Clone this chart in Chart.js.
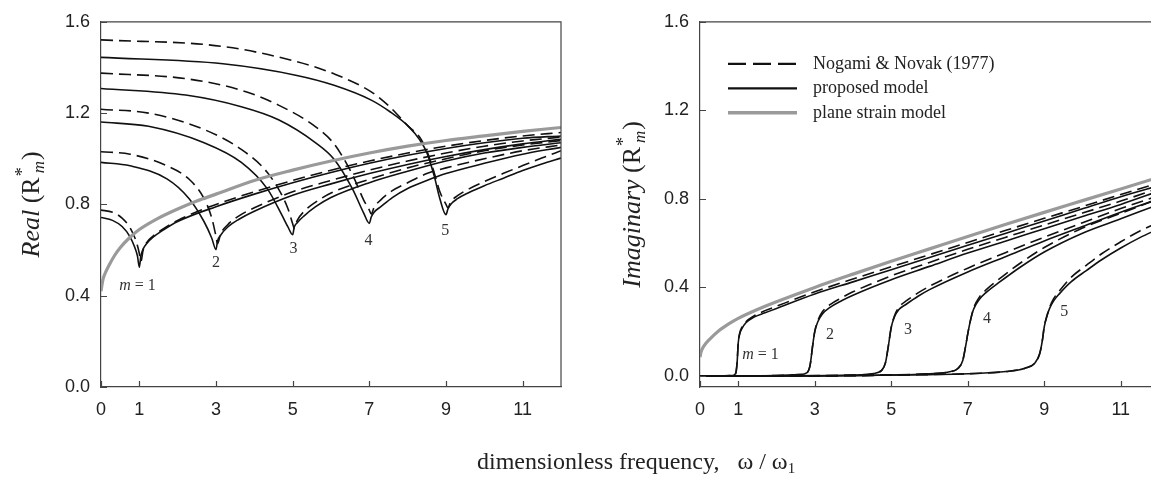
<!DOCTYPE html>
<html>
<head>
<meta charset="utf-8">
<title>Soil reaction vs frequency</title>
<script src="https://cdn.jsdelivr.net/npm/chart.js@4.4.1/dist/chart.umd.min.js"></script>
<style>
  html, body { margin: 0; padding: 0; background: #fff; overflow: hidden; }
  #wrap { position: relative; width: 1151px; height: 485px; overflow: hidden; }
  #realChart { position: absolute; left: 0; top: 0; }
  #imagChart { position: absolute; left: 575px; top: 0; }
  #xTitle {
    position: absolute; left: 477px; top: 448px; white-space: nowrap;
    font: 24px "Liberation Serif", "Times New Roman", serif; color: #222;
  }
  #xTitle sub { font-size: 15px; vertical-align: -4px; }
</style>
</head>
<body>
<div id="wrap">
  <canvas id="realChart" width="580" height="485"></canvas>
  <canvas id="imagChart" width="600" height="485"></canvas>
  <div id="xTitle">dimensionless frequency,&nbsp;&nbsp; ω / ω<sub>1</sub></div>
</div>
<script>
// axis ticks
var xTickVals = [0, 1, 3, 5, 7, 9, 11];
var yTickVals = [0, 0.4, 0.8, 1.2, 1.6];

// ---- real part ----
// plane strain model
var psReX = [0, 0.05, 0.1, 0.2, 0.35, 0.5, 0.75, 1, 1.5, 2, 2.5, 3, 4, 5, 6, 7, 8, 9, 10, 11, 12];
var psRe  = [0.42, 0.47, 0.495, 0.53, 0.575, 0.61, 0.655, 0.69, 0.74, 0.78, 0.815, 0.845, 0.905, 0.95, 0.99, 1.025, 1.055, 1.08, 1.10, 1.12, 1.137];

// m = 1
var re1X    = [0, 0.3, 0.55, 0.75, 0.88, 0.95, 1.0, 1.04, 1.1, 1.2, 1.35, 1.6, 2, 3, 4, 5, 6, 7, 8, 9, 10, 11, 12];
var re1Prop = [0.743, 0.73, 0.703, 0.66, 0.612, 0.575, 0.525, 0.575, 0.605, 0.63, 0.655, 0.685, 0.725, 0.79, 0.845, 0.895, 0.94, 0.98, 1.015, 1.045, 1.07, 1.09, 1.10];
var re1NN   = [0.775, 0.766, 0.74, 0.70, 0.655, 0.62, 0.585, 0.55, 0.60, 0.635, 0.66, 0.69, 0.73, 0.80, 0.855, 0.905, 0.95, 0.99, 1.025, 1.055, 1.08, 1.10, 1.115];
// m = 2
var re2X    = [0, 0.76, 1.72, 2.3, 2.69, 2.89, 3.0, 3.04, 3.12, 3.3, 3.6, 4, 5, 6, 7, 8, 9, 10, 11, 12];
var re2Prop = [0.984, 0.969, 0.912, 0.825, 0.724, 0.652, 0.602, 0.64, 0.665, 0.70, 0.735, 0.77, 0.84, 0.89, 0.935, 0.975, 1.01, 1.04, 1.065, 1.085];
var re2NN   = [1.031, 1.02, 0.969, 0.91, 0.825, 0.74, 0.66, 0.628, 0.67, 0.71, 0.75, 0.785, 0.855, 0.905, 0.95, 0.99, 1.025, 1.055, 1.078, 1.095];
// m = 3
var re3X    = [0, 1.24, 2.69, 3.66, 4.34, 4.72, 4.88, 5.0, 5.04, 5.12, 5.3, 5.6, 6, 7, 8, 9, 10, 11, 12];
var re3Prop = [1.161, 1.142, 1.07, 0.984, 0.868, 0.753, 0.70, 0.667, 0.70, 0.72, 0.75, 0.79, 0.83, 0.895, 0.945, 0.99, 1.025, 1.05, 1.07];
var re3NN   = [1.217, 1.20, 1.128, 1.041, 0.94, 0.84, 0.78, 0.715, 0.695, 0.73, 0.77, 0.81, 0.85, 0.91, 0.96, 1.0, 1.035, 1.06, 1.08];
// m = 4
var re4X    = [0, 2.21, 3.66, 4.63, 5.6, 6.08, 6.56, 6.85, 7.0, 7.05, 7.12, 7.3, 7.6, 8, 8.5, 9, 10, 11, 12];
var re4Prop = [1.308, 1.279, 1.228, 1.171, 1.07, 0.998, 0.868, 0.763, 0.717, 0.745, 0.765, 0.79, 0.83, 0.87, 0.905, 0.935, 0.98, 1.02, 1.05];
var re4NN   = [1.375, 1.351, 1.30, 1.235, 1.14, 1.065, 0.93, 0.82, 0.775, 0.758, 0.785, 0.82, 0.86, 0.895, 0.935, 0.96, 1.0, 1.035, 1.06];
// m = 5
var re5X    = [0, 3.18, 5.11, 6.08, 7.05, 7.53, 8.02, 8.31, 8.5, 8.69, 8.84, 9.0, 9.05, 9.12, 9.3, 9.6, 10, 10.5, 11, 11.5, 12];
var re5Prop = [1.444, 1.416, 1.365, 1.322, 1.257, 1.207, 1.142, 1.084, 1.027, 0.926, 0.825, 0.755, 0.78, 0.80, 0.825, 0.852, 0.882, 0.915, 0.948, 0.977, 1.003];
var re5NN   = [1.521, 1.492, 1.425, 1.372, 1.293, 1.228, 1.142, 1.095, 1.035, 0.94, 0.855, 0.80, 0.785, 0.81, 0.838, 0.868, 0.90, 0.936, 0.97, 1.003, 1.035];

// ---- imaginary part ----
var psImX = [0, 0.03, 0.1, 0.25, 0.5, 0.75, 1, 1.5, 2, 3, 4, 5, 6, 7, 8, 9, 10, 11, 12];
var psIm  = [0.085, 0.11, 0.135, 0.165, 0.205, 0.235, 0.26, 0.30, 0.335, 0.40, 0.46, 0.518, 0.574, 0.63, 0.685, 0.739, 0.792, 0.845, 0.898];

var im1X    = [0, 0.5, 0.85, 0.93, 0.97, 1.0, 1.04, 1.1, 1.2, 1.4, 1.7, 2, 3, 4, 5, 6, 7, 8, 9, 10, 11, 12];
var im1Prop = [0, 0, 0.002, 0.01, 0.06, 0.15, 0.19, 0.215, 0.24, 0.265, 0.285, 0.305, 0.37, 0.425, 0.48, 0.535, 0.59, 0.645, 0.70, 0.755, 0.81, 0.86];
var im1NN   = [0, 0, 0.002, 0.01, 0.06, 0.15, 0.195, 0.222, 0.245, 0.27, 0.295, 0.315, 0.38, 0.438, 0.493, 0.548, 0.603, 0.658, 0.712, 0.765, 0.82, 0.872];

var im2X    = [0, 1, 2, 2.6, 2.8, 2.88, 2.94, 3.0, 3.08, 3.2, 3.4, 3.7, 4, 5, 6, 7, 8, 9, 10, 11, 12];
var im2Prop = [0, 0, 0.002, 0.006, 0.015, 0.05, 0.13, 0.20, 0.245, 0.28, 0.31, 0.34, 0.365, 0.435, 0.495, 0.555, 0.61, 0.665, 0.72, 0.775, 0.835];
var im2NN   = [0, 0, 0.002, 0.006, 0.015, 0.05, 0.13, 0.20, 0.25, 0.29, 0.322, 0.353, 0.38, 0.452, 0.513, 0.572, 0.627, 0.682, 0.736, 0.79, 0.848];

var im3X    = [0, 2, 4, 4.5, 4.75, 4.85, 4.92, 5.0, 5.08, 5.2, 5.4, 5.7, 6, 7, 8, 9, 10, 11, 12];
var im3Prop = [0, 0, 0.004, 0.01, 0.025, 0.06, 0.13, 0.22, 0.265, 0.30, 0.325, 0.36, 0.39, 0.47, 0.54, 0.61, 0.675, 0.74, 0.80];
var im3NN   = [0, 0, 0.004, 0.01, 0.025, 0.06, 0.13, 0.22, 0.27, 0.31, 0.34, 0.375, 0.405, 0.487, 0.558, 0.627, 0.692, 0.756, 0.815];

var im4X    = [0, 3, 5, 6, 6.5, 6.75, 6.87, 6.94, 7.0, 7.07, 7.15, 7.3, 7.5, 7.8, 8.36, 9, 10, 11, 12];
var im4Prop = [0, 0, 0.004, 0.01, 0.018, 0.035, 0.07, 0.13, 0.19, 0.25, 0.30, 0.345, 0.38, 0.42, 0.49, 0.56, 0.645, 0.71, 0.775];
var im4NN   = [0, 0, 0.004, 0.01, 0.018, 0.035, 0.07, 0.13, 0.19, 0.25, 0.305, 0.355, 0.392, 0.435, 0.508, 0.58, 0.668, 0.735, 0.80];

var im5X    = [0, 4, 6, 7, 8, 8.5, 8.75, 8.88, 8.95, 9.0, 9.07, 9.14, 9.25, 9.4, 9.7, 10.1, 10.5, 11, 11.5, 12];
var im5Prop = [0, 0.002, 0.006, 0.01, 0.02, 0.035, 0.057, 0.10, 0.16, 0.222, 0.27, 0.305, 0.34, 0.372, 0.425, 0.476, 0.525, 0.578, 0.625, 0.665];
var im5NN   = [0, 0.002, 0.006, 0.01, 0.02, 0.035, 0.057, 0.10, 0.16, 0.222, 0.272, 0.31, 0.35, 0.385, 0.445, 0.50, 0.552, 0.606, 0.655, 0.695];

// mode labels next to the curves
var reLabelX = [0.95, 3.0, 5.02, 6.98, 8.98];
var reLabelY = [0.445, 0.545, 0.605, 0.64, 0.685];
var imLabelX = [1.58, 3.4, 5.44, 7.5, 9.52];
var imLabelY = [0.094, 0.184, 0.21, 0.26, 0.29];
var modeNames = ['1', '2', '3', '4', '5'];

var SERIF = '"Liberation Serif", "Times New Roman", serif';
var SANS = '"Liberation Sans", Arial, sans-serif';
var AXIS = '#444';

Chart.defaults.font.family = SANS;
Chart.defaults.font.size = 18;
Chart.defaults.color = '#222';

function pts(xs, ys) {
  return xs.map(function(x, i) { return { x: x, y: ys[i] }; });
}

var styleProp = { borderColor: '#111', borderWidth: 1.6, borderDash: [] };
var styleNN = { borderColor: '#111', borderWidth: 1.6, borderDash: [12, 6] };
var stylePS = { borderColor: '#9a9a9a', borderWidth: 3.2, borderDash: [] };

function ds(label, data, style, order) {
  return {
    label: label, data: data, order: order,
    borderColor: style.borderColor, borderWidth: style.borderWidth, borderDash: style.borderDash,
    pointRadius: 0, cubicInterpolationMode: 'monotone', fill: false
  };
}

function drawYTitle(ctx, cx, cy, word) {
  var big = '26px ' + SERIF;
  var fWord = 'italic ' + big, fSup = '18px ' + SERIF, fSub = 'italic 17px ' + SERIF;
  ctx.font = fWord; var w1 = ctx.measureText(word + ' ').width;
  ctx.font = big; var w2 = ctx.measureText('(R').width;
  ctx.font = fSup; var wSup = ctx.measureText('*').width;
  ctx.font = fSub; var wSub = ctx.measureText('m').width;
  ctx.font = big; var w3 = ctx.measureText(')').width;
  var wMid = Math.max(wSup, wSub + 3) + 2;
  var total = w1 + w2 + wMid + w3;
  ctx.save();
  ctx.translate(cx, cy);
  ctx.rotate(-Math.PI / 2);
  ctx.fillStyle = '#222';
  ctx.textBaseline = 'middle';
  ctx.textAlign = 'left';
  var x = -total / 2;
  ctx.font = fWord; ctx.fillText(word + ' ', x, 0); x += w1;
  ctx.font = big; ctx.fillText('(R', x, 0); x += w2;
  ctx.font = fSup; ctx.fillText('*', x + 1, -9);
  ctx.font = fSub; ctx.fillText('m', x + 4, 8);
  x += wMid;
  ctx.font = big; ctx.fillText(')', x, 0);
  ctx.restore();
}

function makeDecor(cfg) {
  return {
    id: 'decor',
    afterDatasetsDraw: function(chart) {
      var ctx = chart.ctx, a = chart.chartArea, sx = chart.scales.x, sy = chart.scales.y;
      ctx.save();
      // frame
      ctx.strokeStyle = AXIS;
      ctx.lineWidth = 1.2;
      ctx.setLineDash([]);
      ctx.beginPath();
      ctx.moveTo(a.left, a.top);
      ctx.lineTo(a.right, a.top);
      ctx.lineTo(a.right, a.bottom);
      ctx.stroke();
      // inward tick marks
      ctx.beginPath();
      yTickVals.forEach(function(v) {
        var p = Math.round(sy.getPixelForValue(v)) + 0.5;
        ctx.moveTo(a.left, p); ctx.lineTo(a.left + 6, p);
      });
      xTickVals.forEach(function(v) {
        var p = Math.round(sx.getPixelForValue(v)) + 0.5;
        ctx.moveTo(p, a.bottom); ctx.lineTo(p, a.bottom - 6);
      });
      ctx.stroke();
      // mode labels
      ctx.fillStyle = '#333';
      ctx.textBaseline = 'middle';
      cfg.labelX.forEach(function(lx, i) {
        var px = sx.getPixelForValue(lx), py = sy.getPixelForValue(cfg.labelY[i]);
        if (i === 0) {
          ctx.font = 'italic 16px ' + SERIF;
          var wm = ctx.measureText('m').width;
          ctx.font = '16px ' + SERIF;
          var wr = ctx.measureText(' = 1').width;
          var x0 = px - (wm + wr) / 2;
          ctx.textAlign = 'left';
          ctx.font = 'italic 16px ' + SERIF; ctx.fillText('m', x0, py);
          ctx.font = '16px ' + SERIF; ctx.fillText(' = 1', x0 + wm, py);
        } else {
          ctx.textAlign = 'center';
          ctx.font = '16px ' + SERIF;
          ctx.fillText(modeNames[i], px, py);
        }
      });
      // legend
      if (cfg.legend) {
        var items = [
          { text: 'Nogami & Novak (1977)', style: styleNN, dash: [18, 7], w: 2.2 },
          { text: 'proposed model', style: styleProp, dash: [], w: 2.2 },
          { text: 'plane strain model', style: stylePS, dash: [], w: 3.6 }
        ];
        ctx.textAlign = 'left';
        ctx.font = '18px ' + SERIF;
        items.forEach(function(it, i) {
          var y = a.top + 42 + i * 24.5;
          ctx.strokeStyle = it.style.borderColor;
          ctx.lineWidth = it.w;
          ctx.setLineDash(it.dash);
          ctx.beginPath();
          ctx.moveTo(a.left + 28, y); ctx.lineTo(a.left + 97, y);
          ctx.stroke();
          ctx.fillStyle = '#222';
          ctx.fillText(it.text, a.left + 113, y);
        });
      }
      ctx.restore();
    },
    afterDraw: function(chart) {
      drawYTitle(chart.ctx, cfg.titleX, (chart.chartArea.top + chart.chartArea.bottom) / 2, cfg.title);
    }
  };
}

function makeChart(id, sets, yMin, yAxisWidth, rightPad, decorCfg) {
  return new Chart(document.getElementById(id), {
    type: 'line',
    data: { datasets: sets },
    options: {
      responsive: false,
      animation: false,
      events: [],
      layout: { padding: { left: 0, top: 19, right: rightPad, bottom: 0 } },
      plugins: { legend: { display: false }, tooltip: { enabled: false } },
      scales: {
        x: {
          type: 'linear', min: 0, max: 12,
          grid: { display: false, drawTicks: false },
          border: { display: true, color: AXIS, width: 1.2 },
          ticks: { padding: 12, maxRotation: 0 },
          afterBuildTicks: function(s) { s.ticks = xTickVals.map(function(v) { return { value: v }; }); },
          afterFit: function(s) { s.height = 98; }
        },
        y: {
          type: 'linear', min: yMin, max: 1.6,
          grid: { display: false, drawTicks: false },
          border: { display: true, color: AXIS, width: 1.2 },
          ticks: { padding: 11, callback: function(v) { return Number(v).toFixed(1); } },
          afterBuildTicks: function(s) { s.ticks = yTickVals.map(function(v) { return { value: v }; }); },
          afterFit: function(s) { s.width = yAxisWidth; }
        }
      }
    },
    plugins: [makeDecor(decorCfg)]
  });
}

// gray curve first so it sits on top of the black ones
var realSets = [
  ds('plane strain model', pts(psReX, psRe), stylePS, 0),
  ds('proposed m=1', pts(re1X, re1Prop), styleProp, 1),
  ds('Nogami & Novak m=1', pts(re1X, re1NN), styleNN, 1),
  ds('proposed m=2', pts(re2X, re2Prop), styleProp, 1),
  ds('Nogami & Novak m=2', pts(re2X, re2NN), styleNN, 1),
  ds('proposed m=3', pts(re3X, re3Prop), styleProp, 1),
  ds('Nogami & Novak m=3', pts(re3X, re3NN), styleNN, 1),
  ds('proposed m=4', pts(re4X, re4Prop), styleProp, 1),
  ds('Nogami & Novak m=4', pts(re4X, re4NN), styleNN, 1),
  ds('proposed m=5', pts(re5X, re5Prop), styleProp, 1),
  ds('Nogami & Novak m=5', pts(re5X, re5NN), styleNN, 1)
];

var imagSets = [
  ds('plane strain model', pts(psImX, psIm), stylePS, 0),
  ds('proposed m=1', pts(im1X, im1Prop), styleProp, 1),
  ds('Nogami & Novak m=1', pts(im1X, im1NN), styleNN, 1),
  ds('proposed m=2', pts(im2X, im2Prop), styleProp, 1),
  ds('Nogami & Novak m=2', pts(im2X, im2NN), styleNN, 1),
  ds('proposed m=3', pts(im3X, im3Prop), styleProp, 1),
  ds('Nogami & Novak m=3', pts(im3X, im3NN), styleNN, 1),
  ds('proposed m=4', pts(im4X, im4Prop), styleProp, 1),
  ds('Nogami & Novak m=4', pts(im4X, im4NN), styleNN, 1),
  ds('proposed m=5', pts(im5X, im5Prop), styleProp, 1),
  ds('Nogami & Novak m=5', pts(im5X, im5NN), styleNN, 1)
];

makeChart('realChart', realSets, 0, 101, 19,
  { title: 'Real', titleX: 32, labelX: reLabelX, labelY: reLabelY, legend: false });
makeChart('imagChart', imagSets, -0.05, 125, 16,
  { title: 'Imaginary', titleX: 58, labelX: imLabelX, labelY: imLabelY, legend: true });
</script>
</body>
</html>
